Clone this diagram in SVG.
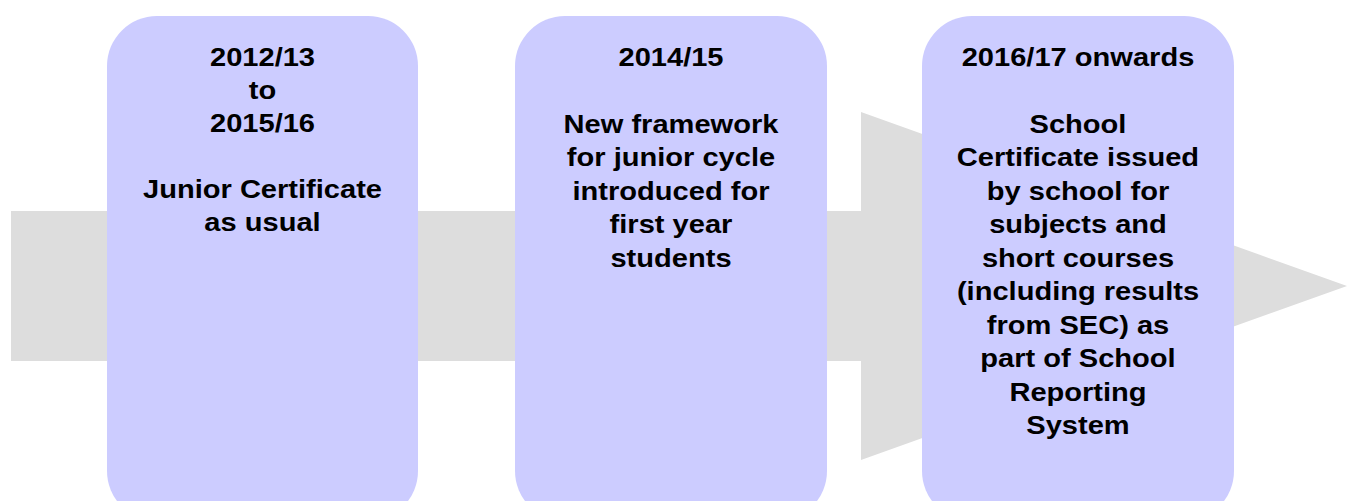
<svg xmlns="http://www.w3.org/2000/svg" width="1347" height="501" viewBox="0 0 1347 501">
<style>
.box{fill:#CCCCFF;}
.arrow{fill:#DDDDDD;}
.t{font-family:"Liberation Sans",Arial,sans-serif;font-weight:bold;font-size:26.2px;fill:#000;text-anchor:middle;}
</style>
<g id="connectors">
<polygon class="arrow" points="11,211 861,211 861,112 1347,286 861,460 861,361 11,361"/>
</g>
<g id="node1">
<rect class="box" x="107" y="16" width="311" height="505" rx="50" ry="50"/>
<g transform="translate(262.5,0) scale(1.11,1)">
<text class="t" x="0" y="66">2012/13</text>
<text class="t" x="0" y="99">to</text>
<text class="t" x="0" y="132">2015/16</text>
<text class="t" x="0" y="198">Junior Certificate</text>
<text class="t" x="0" y="231.5">as usual</text>
</g>
</g>
<g id="node2">
<rect class="box" x="515" y="16" width="312" height="505" rx="50" ry="50"/>
<g transform="translate(671,0) scale(1.11,1)">
<text class="t" x="0" y="66">2014/15</text>
<text class="t" x="0" y="133">New framework</text>
<text class="t" x="0" y="166.5">for junior cycle</text>
<text class="t" x="0" y="200">introduced for</text>
<text class="t" x="0" y="233.5">first year</text>
<text class="t" x="0" y="267">students</text>
</g>
</g>
<g id="node3">
<rect class="box" x="922" y="16" width="312" height="505" rx="50" ry="50"/>
<g transform="translate(1078,0) scale(1.11,1)">
<text class="t" x="0" y="66">2016/17 onwards</text>
<text class="t" x="0" y="133">School</text>
<text class="t" x="0" y="166.5">Certificate issued</text>
<text class="t" x="0" y="200">by school for</text>
<text class="t" x="0" y="233.5">subjects and</text>
<text class="t" x="0" y="267">short courses</text>
<text class="t" x="0" y="300.5">(including results</text>
<text class="t" x="0" y="334">from SEC) as</text>
<text class="t" x="0" y="367.5">part of School</text>
<text class="t" x="0" y="401">Reporting</text>
<text class="t" x="0" y="434.5">System</text>
</g>
</g>
</svg>
